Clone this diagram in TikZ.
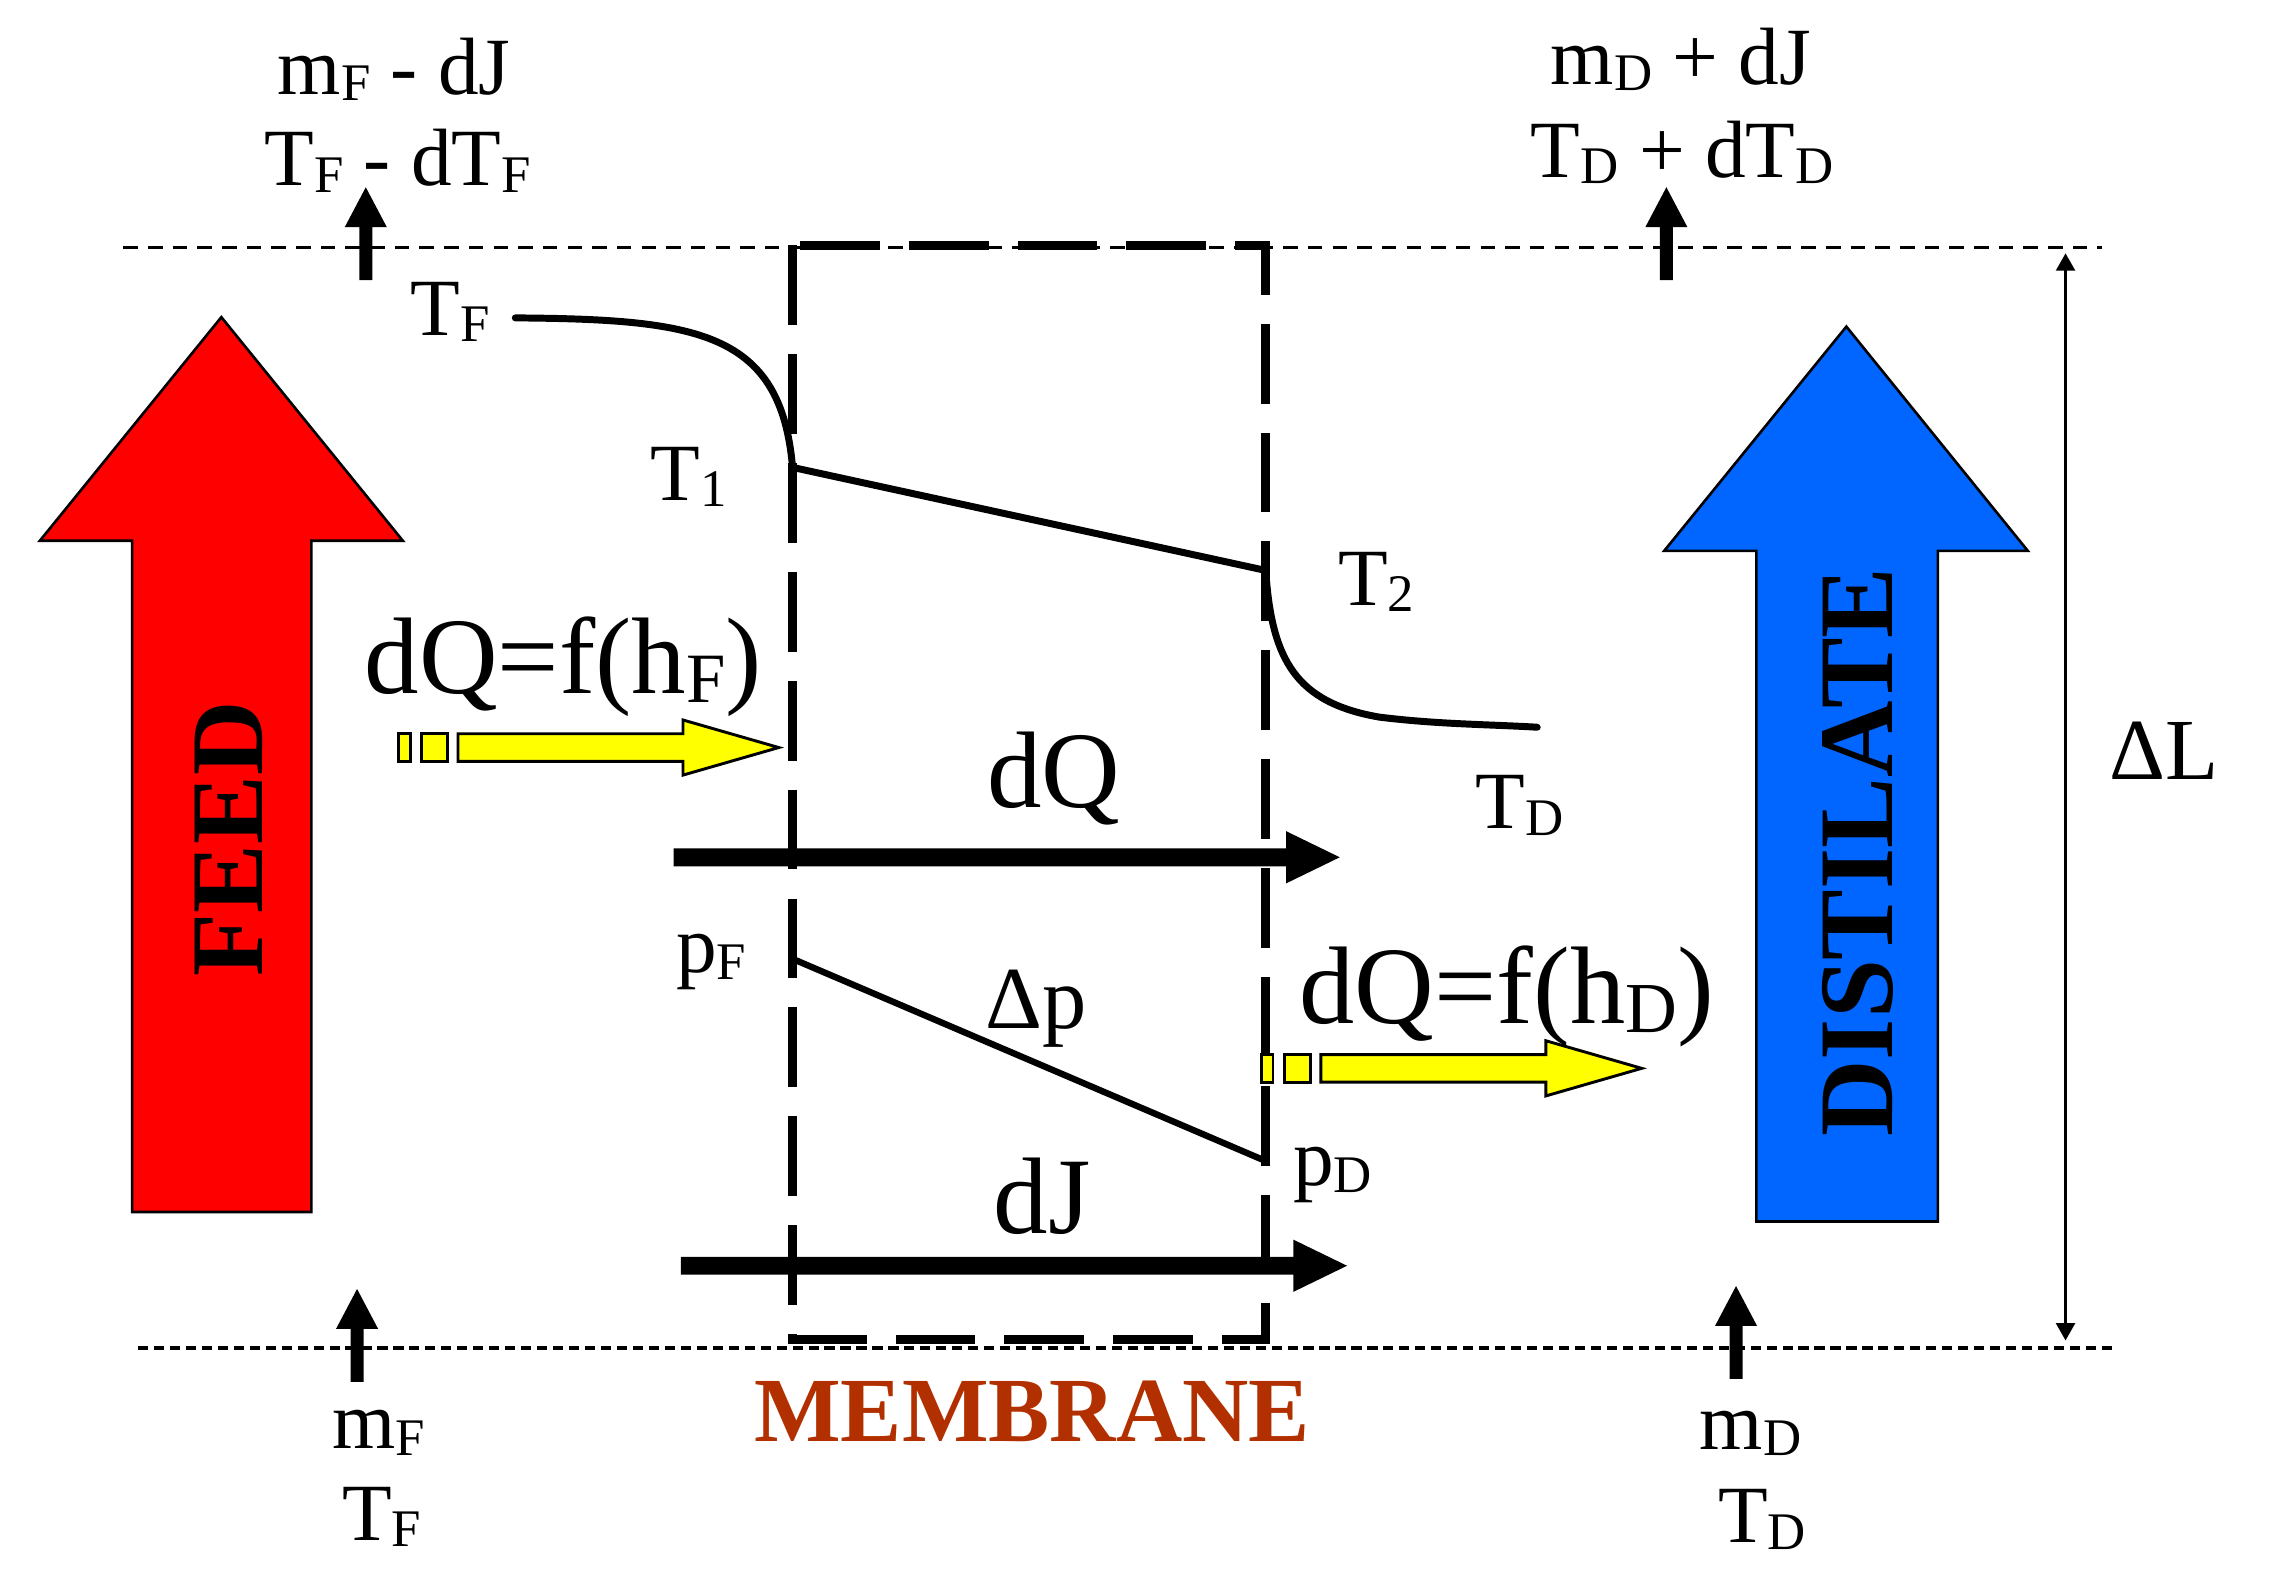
\documentclass[tikz,border=0pt]{standalone}
\usepackage{fontspec}
\setmainfont{Liberation Serif}
\usetikzlibrary{arrows.meta}
\definecolor{feedred}{RGB}{255,0,0}
\definecolor{distblue}{RGB}{0,102,255}
\definecolor{heatyellow}{RGB}{255,255,0}
\definecolor{membrown}{RGB}{178,48,0}
\newcommand{\sbs}[1]{\raisebox{-0.08em}{\scalebox{0.65}{#1}}}
\begin{document}
\begin{tikzpicture}[x=0.5pt,y=-0.5pt,
  lbl/.style={font=\fontsize{28}{32}\selectfont, inner sep=0pt, anchor=base},
  biglbl/.style={font=\fontsize{37.5}{40}\selectfont, inner sep=0pt, anchor=base},
  vlbl/.style={font=\fontsize{35.5}{40}\selectfont\bfseries, inner sep=0pt, rotate=90, anchor=center},
  bigarrow/.style={draw=black, line width=0.9pt, line join=miter},
  limitline/.style={line width=1.3pt, dash pattern=on 5pt off 3.5pt},
  limitlinelow/.style={line width=1.3pt, dash pattern=on 3.5pt off 2pt},
  membline/.style={line width=3pt, dash pattern=on 27.5pt off 10pt},
  profile/.style={line width=2.4pt, line cap=round, line join=round},
  smallup/.pic={\fill (-4.5,0) -- (-4.5,-36.5) -- (-14.5,-36.5) -- (0,-64) -- (14.5,-36.5) -- (4.5,-36.5) -- (4.5,0) -- cycle;},
  heatarrow/.pic={
    \filldraw[fill=heatyellow, draw=black, line width=1pt] (0,-9.5) rectangle (8,9.5);
    \filldraw[fill=heatyellow, draw=black, line width=1pt] (16,-9.5) rectangle (34,9.5);
    \filldraw[fill=heatyellow, draw=black, line width=1pt, line join=miter]
      (41,-9.5) -- (196,-9.5) -- (196,-19) -- (262,0) -- (196,19) -- (196,9.5) -- (41,9.5) -- cycle;},
  fluxarrow/.pic={\fill (0,-6.2) -- (422,-6.2) -- (422,-18) -- (459,0) -- (422,18) -- (422,6.2) -- (0,6.2) -- cycle;}
]
\useasboundingbox (0,0) rectangle (1568,1097);
\fill[white] (0,0) rectangle (1568,1097);

% limit lines
\coordinate (tl) at (85,170.5);
\coordinate (tr) at (1448,170.5);
\coordinate (bl) at (95,928.5);
\coordinate (br) at (1458,928.5);
\draw[limitline] (tl) -- (tr);
\draw[limitlinelow] (bl) -- (br);

% feed and distillate arrows
\filldraw[bigarrow, fill=feedred] (91,835) -- (91,372.5) -- (27.5,372.5) -- (152.5,218.5) -- (277.5,372.5) -- (214.5,372.5) -- (214.5,835) -- cycle;
\filldraw[bigarrow, fill=distblue] (1210,841.5) -- (1210,379.5) -- (1146.5,379.5) -- (1272,225) -- (1397,379.5) -- (1335,379.5) -- (1335,841.5) -- cycle;
\node[vlbl] (feed) at (158,578) {FEED};
\node[vlbl, font=\fontsize{36.5}{40}\selectfont\bfseries] (dist) at (1280,587) {DISTILATE};

% membrane
\draw[membline] (546,169) -- (546,923) -- (872,923) -- (872,169) -- cycle;

% temperature profile
\coordinate (tfp) at (355,219);
\coordinate (t1p) at (546,322);
\coordinate (t2p) at (872,393);
\coordinate (tdp) at (1059,501);
\draw[profile] (tfp) .. controls (480,220) and (538,228) .. (t1p) -- (t2p)
  .. controls (876,455) and (893,484) .. (950,494) .. controls (990,499) and (1025,499) .. (tdp);

% pressure profile
\coordinate (pfp) at (547,661);
\coordinate (pdp) at (870,799);
\draw[line width=2.2pt] (pfp) -- (pdp);

% flux arrows
\pic at (464,590.6) {fluxarrow};
\pic at (469,872) {fluxarrow};

% heat transfer arrows
\pic at (274.5,515) {heatarrow};
\pic at (869,736) {heatarrow};

% inlet / outlet arrows
\pic at (252,193) {smallup};
\pic at (1148,193) {smallup};
\pic at (246,952) {smallup};
\pic at (1196,950) {smallup};

% length arrow
\coordinate (lt) at (1423,174.5);
\coordinate (lb) at (1423,923.5);
\draw[line width=1pt, {Triangle[length=6pt,width=6.5pt]}-{Triangle[length=6pt,width=6.5pt]}] (lt) -- (lb);
\node[font=\fontsize{30}{32}\selectfont, inner sep=0pt, anchor=base] (dl) at (1491,537) {ΔL};

% labels
\node[lbl] (outF1) at (271.5,65) {m\sbs{F} - dJ};
\node[lbl] (outF2) at (274,128) {T\sbs{F} - dT\sbs{F}};
\node[lbl] (outD1) at (1158,58) {m\sbs{D} + dJ};
\node[lbl] (outD2) at (1159,122) {T\sbs{D} + dT\sbs{D}};
\node[lbl] (inF1) at (261,998) {m\sbs{F}};
\node[lbl] (inF2) at (263,1061) {T\sbs{F}};
\node[lbl] (inD1) at (1206,998.5) {m\sbs{D}};
\node[lbl] (inD2) at (1214,1063) {T\sbs{D}};

\node[lbl] (tf) at (310,231) {T\sbs{F}};
\node[lbl] (t1) at (474.5,344.5) {T\sbs{1}};
\node[lbl] (t2) at (948,417) {T\sbs{2}};
\node[lbl] (td) at (1047,571) {T\sbs{D}};
\node[lbl] (pf) at (490,670) {p\sbs{F}};
\node[lbl] (pd) at (918,817) {p\sbs{D}};
\node[font=\fontsize{30.5}{34}\selectfont, inner sep=0pt, anchor=base] (dp) at (714,708.5) {Δp};

\node[biglbl] (hf) at (388,478) {dQ=f(h\sbs{F})};
\node[biglbl, font=\fontsize{38}{40}\selectfont] (hd) at (1038,705) {dQ=f(h\sbs{D})};
\node[biglbl] (dq) at (726,556.5) {dQ};
\node[biglbl] (dj) at (718,850) {dJ};

\node[font=\fontsize{31.6}{34}\selectfont\bfseries, text=membrown, inner sep=0pt, anchor=base] (memb) at (711,993) {MEMBRANE};
\end{tikzpicture}
\end{document}
